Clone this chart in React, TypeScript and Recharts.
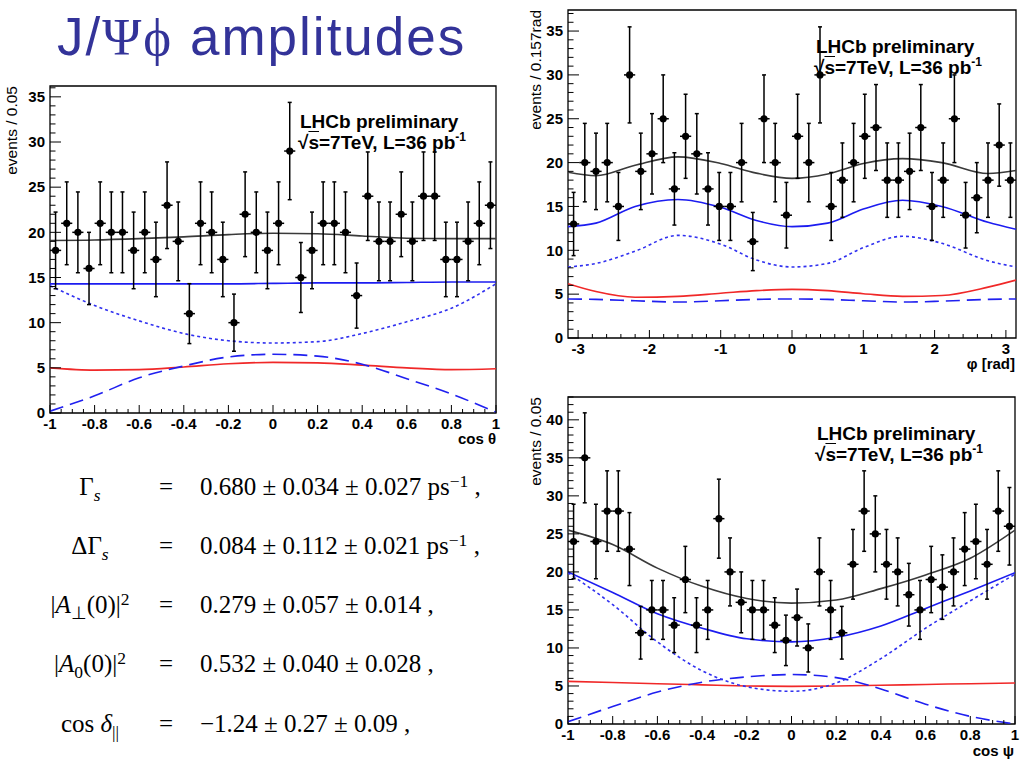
import React from "react";
import { ComposedChart, Scatter, Line, XAxis, YAxis, ErrorBar, ReferenceArea } from "recharts";

const ROOT_FONT = "'Liberation Sans', Arial, Helvetica, sans-serif";
const TEX_FONT = "'Liberation Serif', 'Times New Roman', serif";

// histogram contents, 40 bins each
const thetaCounts = [18, 21, 20, 16, 21, 20, 20, 18, 20, 17, 23, 19, 11, 21, 20, 17, 10, 22, 20, 18,
  21, 29, 15, 18, 21, 21, 20, 13, 24, 19, 19, 22, 19, 24, 24, 17, 17, 19, 21, 23];
const phiCounts = [13, 20, 19, 20, 15, 30, 19, 21, 25, 17, 23, 21, 17, 15, 15, 20, 11, 25, 20, 14,
  23, 20, 30, 15, 18, 20, 23, 24, 18, 18, 19, 24, 15, 18, 25, 14, 16, 18, 22, 18];
const psiCounts = [24, 35, 24, 28, 28, 23, 12, 15, 15, 13, 19, 13, 15, 27, 20, 16, 15, 15, 13, 11,
  14, 10, 20, 15, 12, 21, 28, 25, 21, 20, 17, 15, 19, 18, 20, 23, 24, 21, 28, 26];

const cosX = [-1, -0.8, -0.6, -0.4, -0.2, 0, 0.2, 0.4, 0.6, 0.8, 1];
const phiX = [-3.1416, -2.75, -2.2, -1.6, -1.0, -0.5, 0, 0.5, 1.0, 1.55, 2.1, 2.75, 3.1416];

const thetaTotal = [19.1, 19.15, 19.3, 19.5, 19.75, 19.9, 19.85, 19.6, 19.35, 19.3, 19.3];
const thetaSignal = [14.3, 14.3, 14.3, 14.3, 14.3, 14.35, 14.4, 14.4, 14.45, 14.5, 14.5];
const thetaDotted = [14.1, 11.9, 10.2, 8.8, 8.0, 7.75, 7.9, 8.8, 10.1, 11.6, 14.3];
const thetaDashed = [0.2, 1.9, 3.9, 5.2, 6.2, 6.5, 6.3, 5.4, 3.8, 2.1, 0.1];
const thetaBkg = [5.0, 4.75, 4.8, 5.1, 5.45, 5.6, 5.55, 5.3, 5.0, 4.8, 4.9];

const phiTotal = [18.9, 18.5, 19.7, 20.65, 19.9, 18.8, 18.2, 18.7, 19.9, 20.45, 20.0, 18.75, 19.1];
const phiSignal = [12.7, 13.1, 15.0, 15.8, 14.9, 13.4, 12.7, 13.1, 14.7, 15.7, 15.0, 13.2, 12.4];
const phiDotted = [8.1, 8.5, 9.9, 11.7, 10.7, 8.9, 8.1, 8.5, 10.3, 11.6, 10.8, 8.8, 8.1];
const phiDashed = [4.45, 4.4, 4.25, 4.1, 4.25, 4.4, 4.45, 4.4, 4.25, 4.1, 4.2, 4.4, 4.45];
const phiBkg = [6.2, 5.3, 4.65, 4.75, 5.1, 5.4, 5.55, 5.4, 5.05, 4.75, 4.85, 5.8, 6.6];

const psiTotal = [25.5, 23.6, 20.5, 18.1, 16.5, 15.9, 16.3, 17.8, 19.6, 21.8, 25.5];
const psiSignal = [20.0, 17.3, 14.5, 12.6, 11.2, 10.8, 11.4, 12.9, 15.2, 17.5, 19.9];
const psiDotted = [19.9, 15.7, 10.8, 7.0, 4.9, 4.3, 5.4, 8.6, 12.6, 16.2, 19.7];
const psiDashed = [0.3, 2.3, 4.2, 5.5, 6.2, 6.5, 6.1, 4.6, 2.6, 1.0, 0.0];
const psiBkg = [5.6, 5.45, 5.3, 5.15, 5.0, 4.95, 5.0, 5.1, 5.2, 5.3, 5.4];

// axis ticks
const cosMajor = [-1, -0.8, -0.6, -0.4, -0.2, 0, 0.2, 0.4, 0.6, 0.8, 1];
const phiMajor = [-3, -2, -1, 0, 1, 2, 3];
const yMajorTheta = [0, 5, 10, 15, 20, 25, 30, 35];
const yMajorPhi = [0, 5, 10, 15, 20, 25, 30, 35];
const yMajorPsi = [0, 5, 10, 15, 20, 25, 30, 35, 40];

const steps = (a: number, b: number, step: number) => {
  const out: number[] = [];
  const n = Math.round((b - a) / step);
  for (let i = 0; i <= n; i++) out.push(+(a + i * step).toFixed(4));
  return out;
};

const histRows = (counts: number[], lo: number, width: number) =>
  counts.map((n, i) => ({ x: lo + width * (i + 0.5), n, ey: Math.sqrt(n), ex: width / 2 }));

const curveRows = (xs: number[], total: number[], signal: number[], dotted: number[], dashed: number[], bkg: number[]) =>
  xs.map((x, i) => ({ x, total: total[i], signal: signal[i], dotted: dotted[i], dashed: dashed[i], bkg: bkg[i] }));

const isIn = (list: number[], v: number) => list.some((m) => Math.abs(m - v) < 1e-6);

const XTick = (props: any) => {
  const { x, y, payload, majors } = props;
  const major = isIn(majors, payload.value);
  return (
    <g>
      <line x1={x} y1={y} x2={x} y2={y - (major ? 8 : 4)} stroke="#000" strokeWidth={1} />
      {major && (
        <text x={x} y={y + 16} textAnchor="middle" fontFamily={ROOT_FONT} fontWeight="bold" fontSize={15} fill="#000">
          {String(payload.value)}
        </text>
      )}
    </g>
  );
};

const YTick = (props: any) => {
  const { x, y, payload, majors } = props;
  const major = isIn(majors, payload.value);
  return (
    <g>
      <line x1={x} y1={y} x2={x + (major ? 11 : 5.5)} y2={y} stroke="#000" strokeWidth={1} />
      {major && (
        <text x={x - 5} y={y} dy={5.3} textAnchor="end" fontFamily={ROOT_FONT} fontWeight="bold" fontSize={15} fill="#000">
          {String(payload.value)}
        </text>
      )}
    </g>
  );
};

const Dot = (p: any) => (p.cx == null ? null : <circle cx={p.cx} cy={p.cy} r={3.6} fill="#000" />);

interface PanelProps {
  left: number;
  top: number;
  width: number;
  height: number;
  margin: { top: number; right: number; bottom: number; left: number };
  xDomain: [number, number];
  yMax: number;
  xMajor: number[];
  xTicks: number[];
  yMajor: number[];
  yTicks: number[];
  hist: ReturnType<typeof histRows>;
  curves: ReturnType<typeof curveRows>;
}

const Panel = ({ left, top, width, height, margin, xDomain, yMax, xMajor, xTicks, yMajor, yTicks, hist, curves }: PanelProps) => (
  <div style={{ position: "absolute", left, top }}>
    <ComposedChart width={width} height={height} margin={margin}>
      <XAxis
        type="number"
        dataKey="x"
        domain={xDomain}
        ticks={xTicks}
        interval={0}
        allowDataOverflow
        axisLine={false}
        tickLine={false}
        tickSize={0}
        tickMargin={0}
        height={32}
        tick={(p: any) => <XTick {...p} majors={xMajor} />}
      />
      <YAxis
        type="number"
        domain={[0, yMax]}
        ticks={yTicks}
        interval={0}
        allowDataOverflow
        axisLine={false}
        tickLine={false}
        tickSize={0}
        tickMargin={0}
        width={50}
        tick={(p: any) => <YTick {...p} majors={yMajor} />}
      />
      <ReferenceArea x1={xDomain[0]} x2={xDomain[1]} y1={0} y2={yMax} fill="none" stroke="#000" strokeWidth={1.3} ifOverflow="visible" />
      <Line data={curves} dataKey="bkg" type="monotone" stroke="#f02828" strokeWidth={1.6} dot={false} activeDot={false} isAnimationActive={false} />
      <Line data={curves} dataKey="dashed" type="monotone" stroke="#2020f0" strokeWidth={1.6} strokeDasharray="14 7" dot={false} activeDot={false} isAnimationActive={false} />
      <Line data={curves} dataKey="dotted" type="monotone" stroke="#3030f0" strokeWidth={1.6} strokeDasharray="3 3" dot={false} activeDot={false} isAnimationActive={false} />
      <Line data={curves} dataKey="signal" type="monotone" stroke="#1c1cf0" strokeWidth={1.6} dot={false} activeDot={false} isAnimationActive={false} />
      <Line data={curves} dataKey="total" type="monotone" stroke="#3a3a3a" strokeWidth={1.6} dot={false} activeDot={false} isAnimationActive={false} />
      <Scatter data={hist} dataKey="n" shape={Dot} isAnimationActive={false}>
        <ErrorBar dataKey="ey" direction="y" width={2} stroke="#000" strokeWidth={1.5} isAnimationActive={false} />
        <ErrorBar dataKey="ex" direction="x" width={0} stroke="#000" strokeWidth={1.5} isAnimationActive={false} />
      </Scatter>
    </ComposedChart>
  </div>
);

const Sub = ({ children, italic }: { children: React.ReactNode; italic?: boolean }) => (
  <span style={{ fontSize: "0.7em", position: "relative", top: "0.32em", fontStyle: italic ? "italic" : "normal" }}>{children}</span>
);
const Sup = ({ children }: { children: React.ReactNode }) => (
  <span style={{ fontSize: "0.7em", position: "relative", top: "-0.45em" }}>{children}</span>
);

const Lumi = ({ left, top }: { left: number; top: number }) => (
  <div style={{ position: "absolute", left, top, fontFamily: ROOT_FONT, fontWeight: "bold", fontSize: 19, lineHeight: "21px", whiteSpace: "nowrap", color: "#000" }}>
    <div style={{ paddingLeft: 2 }}>LHCb preliminary</div>
    <div>
      √<span style={{ textDecoration: "overline" }}>s</span>=7TeV, L=36 pb
      <span style={{ fontSize: 12, position: "relative", top: -8 }}>-1</span>
    </div>
  </div>
);

const eqRows: { lhs: React.ReactNode; rhs: React.ReactNode; top: number }[] = [
  { lhs: <>Γ<Sub italic>s</Sub></>, rhs: <>0.680 ± 0.034 ± 0.027 ps<Sup>−1</Sup> ,</>, top: 474 },
  { lhs: <>ΔΓ<Sub italic>s</Sub></>, rhs: <>0.084 ± 0.112 ± 0.021 ps<Sup>−1</Sup> ,</>, top: 533 },
  { lhs: <>|<i>A</i><Sub>⊥</Sub>(0)|<Sup>2</Sup></>, rhs: <>0.279 ± 0.057 ± 0.014 ,</>, top: 592 },
  { lhs: <>|<i>A</i><Sub>0</Sub>(0)|<Sup>2</Sup></>, rhs: <>0.532 ± 0.040 ± 0.028 ,</>, top: 651 },
  { lhs: <>cos <i>δ</i><Sub>||</Sub></>, rhs: <>−1.24 ± 0.27 ± 0.09 ,</>, top: 711 },
];

export default function App() {
  const thetaHist = histRows(thetaCounts, -1, 0.05);
  const phiHist = histRows(phiCounts, -Math.PI, (2 * Math.PI) / 40);
  const psiHist = histRows(psiCounts, -1, 0.05);
  const thetaCurves = curveRows(cosX, thetaTotal, thetaSignal, thetaDotted, thetaDashed, thetaBkg);
  const phiCurves = curveRows(phiX, phiTotal, phiSignal, phiDotted, phiDashed, phiBkg);
  const psiCurves = curveRows(cosX, psiTotal, psiSignal, psiDotted, psiDashed, psiBkg);

  return (
    <div style={{ position: "absolute", left: 0, top: 0, width: 1024, height: 768, background: "#fff", overflow: "hidden" }}>
      <div style={{ position: "absolute", left: 57, top: 10, fontFamily: ROOT_FONT, fontSize: 53, lineHeight: "53px", color: "#333399", whiteSpace: "nowrap", letterSpacing: 2 }}>
        J/<span style={{ fontFamily: TEX_FONT }}>Ψϕ</span> amplitudes
      </div>

      <Panel
        left={0} top={80} width={510} height={365}
        margin={{ top: 6, right: 14, bottom: 0, left: 0 }}
        xDomain={[-1, 1]} yMax={36.2}
        xMajor={cosMajor} xTicks={steps(-1, 1, 0.05)}
        yMajor={yMajorTheta} yTicks={steps(0, 36, 1)}
        hist={thetaHist} curves={thetaCurves}
      />
      <Panel
        left={518} top={0} width={506} height={370}
        margin={{ top: 10, right: 8, bottom: 0, left: 0 }}
        xDomain={[-Math.PI, Math.PI]} yMax={37.4}
        xMajor={phiMajor} xTicks={steps(-3, 3, 0.2)}
        yMajor={yMajorPhi} yTicks={steps(0, 37, 1)}
        hist={phiHist} curves={phiCurves}
      />
      <Panel
        left={518} top={390} width={506} height={366}
        margin={{ top: 7, right: 9, bottom: 0, left: 0 }}
        xDomain={[-1, 1]} yMax={43}
        xMajor={cosMajor} xTicks={steps(-1, 1, 0.05)}
        yMajor={yMajorPsi} yTicks={steps(0, 43, 1)}
        hist={psiHist} curves={psiCurves}
      />

      <svg width={1024} height={768} style={{ position: "absolute", left: 0, top: 0, pointerEvents: "none" }}>
        <g fontFamily={ROOT_FONT} fontSize={15.5} fill="#000">
          <text transform="translate(17,86) rotate(-90)" textAnchor="end">events / 0.05</text>
          <text transform="translate(541,10) rotate(-90)" textAnchor="end">events / 0.157rad</text>
          <text transform="translate(541,397) rotate(-90)" textAnchor="end">events / 0.05</text>
        </g>
        <g fontFamily={ROOT_FONT} fontSize={15} fontWeight="bold" fill="#000" textAnchor="end">
          <text x={496} y={444}>cos θ</text>
          <text x={1015} y={369}>φ [rad]</text>
          <text x={1014} y={756}>cos ψ</text>
        </g>
      </svg>

      <Lumi left={298} top={111} />
      <Lumi left={814} top={36} />
      <Lumi left={815} top={423} />

      <div style={{ fontFamily: TEX_FONT, fontSize: 25, lineHeight: "25px", color: "#000" }}>
        {eqRows.map((r, i) => (
          <React.Fragment key={i}>
            <div style={{ position: "absolute", left: 30, width: 120, top: r.top, textAlign: "center", whiteSpace: "nowrap" }}>{r.lhs}</div>
            <div style={{ position: "absolute", left: 150, width: 32, top: r.top, textAlign: "center" }}>=</div>
            <div style={{ position: "absolute", left: 200, top: r.top, whiteSpace: "nowrap" }}>{r.rhs}</div>
          </React.Fragment>
        ))}
      </div>
    </div>
  );
}
